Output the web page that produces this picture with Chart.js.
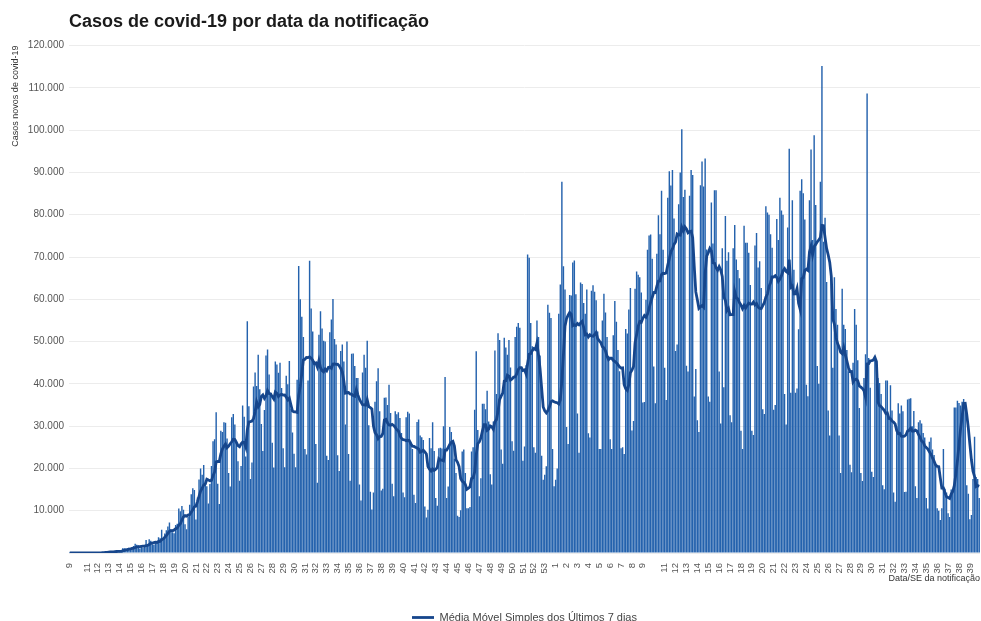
<!DOCTYPE html>
<html><head><meta charset="utf-8">
<script src="https://cdn.jsdelivr.net/npm/chart.js@4.4.1/dist/chart.umd.min.js"></script>
<style>html,body{margin:0;padding:0;background:#fff}#wrap{width:981px;height:621px}</style>
</head><body><div id="wrap"><canvas id="c" width="981" height="621"></canvas></div>
<script>
// Epidemiological weeks (SE) shown on the x axis, 2020 wk 9 .. 2021 wk 39
const epiWeeks = ['9','10','11','12','13','14','15','16','17','18','19','20','21','22','23','24','25','26','27','28','29','30','31','32','33','34','35','36','37','38','39','40','41','42','43','44','45','46','47','48','49','50','51','52','53',
  '1','2','3','4','5','6','7','8','9','10','11','12','13','14','15','16','17','18','19','20','21','22','23','24','25','26','27','28','29','30','31','32','33','34','35','36','37','38','39'];
// Tick labels printed under each week (two "10" labels are not printed in the original)
const weekTickLabels = ['9','','11','12','13','14','15','16','17','18','19','20','21','22','23','24','25','26','27','28','29','30','31','32','33','34','35','36','37','38','39','40','41','42','43','44','45','46','47','48','49','50','51','52','53',
  '1','2','3','4','5','6','7','8','9','','11','12','13','14','15','16','17','18','19','20','21','22','23','24','25','26','27','28','29','30','31','32','33','34','35','36','37','38','39'];
// Daily new cases (thousands), one row per epidemiological week (Sun..Sat)
const dailyCasesK = [
  [0.001,0,0,0.001],
  [0,0.001,0,0.001,0.004,0.005,0.001],
  [0.006,0.005,0.009,0.018,0.025,0.021,0.023],
  [0.079,0.034,0.057,0.137,0.193,0.283,0.224],
  [0.418,0.345,0.310,0.232,0.482,0.502,0.487],
  [0.352,0.323,1.138,1.119,1.074,1.146,1.222],
  [0.852,0.926,1.661,2.210,1.930,1.781,1.089],
  [1.442,1.261,1.832,3.058,2.105,3.257,2.917],
  [2.055,1.927,2.498,2.678,3.735,3.503,5.514],
  [3.379,4.613,5.385,6.276,7.218,5.015,4.898],
  [4.7,6.6,6.9,10.5,9.9,11.1,10.2],
  [6.8,5.6,8.6,11.4,13.9,15.3,14.9],
  [7.9,13.1,17.4,20.0,18.5,20.8,16.5],
  [15.8,11.7,16.3,20.6,26.4,26.9,33.3],
  [16.4,11.6,28.9,28.6,30.9,30.8,27.1],
  [18.9,15.7,32.1,32.9,30.4,26.0,21.7],
  [17.1,20.6,34.9,32.2,22.8,54.8,34.7],
  [17.5,21.4,39.4,42.7,39.5,46.9,38.7],
  [30.5,24.1,33.8,46.7,48.1,42.2,37.9],
  [26.1,20.2,45.3,44.6,42.6,45.0,39.0],
  [24.8,20.3,41.9,39.9,45.4,34.2,28.5],
  [23.5,20.3,41.0,67.9,60.0,55.9,51.1],
  [24.6,23.3,40.8,69.1,57.8,52.4,45.4],
  [25.8,16.6,51.6,57.2,53.1,50.2,50.0],
  [23.0,22.0,52.2,55.2,60.1,50.6,49.3],
  [23.1,19.4,47.8,49.3,45.3,30.4,50.0],
  [23.4,17.1,47.1,47.2,44.2,41.4,41.4],
  [16.2,12.4,42.7,46.9,43.8,50.2,30.2],
  [14.5,10.3,14.3,35.8,40.6,43.7,33.5],
  [14.8,15.2,36.7,36.8,35.0,39.8,33.1],
  [16.4,13.4,33.5,32.8,33.3,31.9,28.4],
  [14.3,13.2,32.1,33.4,33.0,26.3,24.6],
  [13.8,11.8,31.0,31.6,27.8,27.4,26.7],
  [11.0,8.4,10.2,27.2,24.8,30.9,24.1],
  [13.0,11.2,24.8,24.9,24.7,30.0,41.6],
  [13.0,15.7,29.8,28.6,26.1,22.3,18.9],
  [8.8,8.5,10.1,24.0,24.5,18.9,10.6],
  [10.6,10.9,24.0,25.0,33.9,47.7,29.1],
  [13.4,17.7,35.3,35.3,34.0,38.4,31.1],
  [18.6,16.2,31.1,47.9,37.6,52.0,50.4],
  [24.5,21.1,50.9,48.6,46.9,50.4,43.9],
  [26.4,24.2,51.1,53.5,54.4,53.3,43.9],
  [21.8,25.2,44.4,70.6,69.8,54.4,48.9],
  [25.0,23.7,55.0,51.1,46.7,23.0,17.3],
  [18.5,20.5,58.7,56.8,55.6,24.6,15.8],
  [17.3,20.0,56.6,63.5,87.8,67.8,62.3],
  [29.8,25.8,61.0,60.9,68.7,69.2,61.2],
  [33.0,23.7,64.0,63.6,59.1,56.6,62.3],
  [28.3,27.3,62.0,63.3,61.8,59.8,52.4],
  [24.6,24.6,55.0,61.3,56.9,51.1,46.6],
  [26.9,24.6,51.5,59.6,54.7,48.0,43.0],
  [24.8,25.0,23.4,53.0,51.9,57.6,62.7],
  [29.0,31.2,62.5,66.6,65.8,65.2,61.6],
  [35.6,35.7,59.9,71.7,75.1,75.3,69.6],
  [44.1,35.4,70.8,79.9,75.4,85.7,71.7],
  [43.8,36.2,84.0,90.3,86.9,90.6,79.1],
  [47.8,49.3,82.5,90.0,100.2,84.2,85.9],
  [44.3,42.9,84.5,90.6,89.4,37.0,43.5],
  [31.4,28.6,87.0,92.6,86.7,93.3,71.8],
  [37.0,35.8,82.9,73.2,85.8,85.8,67.6],
  [42.9,30.6,72.1,39.2,79.7,69.1,71.1],
  [32.6,30.9,72.1,77.6,69.4,66.9,65.0],
  [28.9,24.6,77.4,73.4,73.4,71.0,63.4],
  [28.9,27.9,72.7,75.7,67.5,69.0,62.7],
  [34.0,32.9,82.0,80.5,80.0,75.4,72.2],
  [33.9,35.0,79.0,74.0,84.0,81.0,80.0],
  [37.6,30.4,77.0,95.6,37.9,83.4,67.0],
  [37.9,38.9,52.9,85.7,88.4,85.1,78.9],
  [39.8,37.1,83.4,95.4,74.0,98.8,82.3],
  [44.2,40.0,87.8,115.2,73.6,79.3,64.1],
  [33.7,27.8,64.9,43.8,65.2,57.7,54.0],
  [27.8,18.9,62.5,54.0,53.0,48.0,43.0],
  [20.9,19.1,45.0,57.7,54.0,45.6,34.3],
  [18.9,17.0,41.4,47.0,108.7,46.1,39.1],
  [19.2,18.0,46.0,40.0,41.4,40.2,37.6],
  [16.0,15.1,40.8,40.8,32.3,39.7,33.7],
  [14.3,12.1,30.0,35.4,33.0,34.9,33.5],
  [14.4,14.5,36.3,36.5,36.6,30.0,33.6],
  [15.8,13.0,30.9,31.4,30.6,28.4,27.3],
  [13.0,10.5,26.3,27.3,24.5,23.2,21.0],
  [10.6,10.0,7.8,10.6,24.6,15.2,14.3],
  [9.4,8.5,15.0,14.8,34.4,34.4,36.0],
  [35.5,34.9,35.8,36.4,34.7,16.0,14.0],
  [8.0,9.0,17.5,27.5,18.0,17.5,13.0]
];
const yTickValuesK = [10,20,30,40,50,60,70,80,90,100,110,120];

// ---- build day-level categories from the arrays above
const dayLabels = [];
const dayValues = [];
dailyCasesK.forEach((week, wi) => {
  week.forEach((v, di) => {
    dayLabels.push(di === 0 ? weekTickLabels[wi] : '');
    dayValues.push(v);
  });
});
// 7-day simple moving average of the daily series (definition of the line)
const movingAvg = dayValues.map((v, i) => {
  const s = dayValues.slice(Math.max(0, i - 6), i + 1);
  return s.reduce((a, b) => a + b, 0) / s.length;
});

const BAR = '#2462ad';
const LINE = '#16468c';
const TXT = '#555';
const SANS = "'Liberation Sans', Arial, sans-serif";

new Chart(document.getElementById('c'), {
  type: 'bar',
  data: {
    labels: dayLabels,
    datasets: [
      { type: 'line', label: 'Média Móvel Simples dos Últimos 7 dias', data: movingAvg,
        borderColor: LINE, backgroundColor: LINE, borderWidth: 2.8, pointRadius: 0, tension: 0, order: 0 },
      { type: 'bar', label: 'Casos novos', data: dayValues, backgroundColor: BAR,
        barPercentage: 0.92, categoryPercentage: 1, order: 1 }
    ]
  },
  options: {
    responsive: false, animation: false, devicePixelRatio: 1,
    layout: { padding: { left: 0, right: 1, top: 0, bottom: -12 } },
    plugins: {
      title: { display: true, text: 'Casos de covid-19 por data da notificação', align: 'start', fullSize: false,
        color: '#1a1a1a', font: { family: SANS, size: 18, weight: 'bold' }, padding: { top: 11, bottom: 13 } },
      legend: { position: 'bottom', fullSize: false,
        labels: { filter: it => it.datasetIndex === 0, usePointStyle: true, pointStyle: 'line', pointStyleWidth: 22,
          color: '#444', font: { family: SANS, size: 11 }, padding: 2 } },
      tooltip: { enabled: false }
    },
    scales: {
      x: {
        grid: { display: false }, border: { display: false },
        ticks: { autoSkip: false, maxRotation: 90, minRotation: 90, padding: 2, color: TXT,
          font: { family: SANS, size: 9.5 } },
        title: { display: true, text: 'Data/SE da notificação', align: 'end', color: '#333',
          font: { family: SANS, size: 9 }, padding: { top: 0, bottom: 26 } },
        afterFit: s => { s.height = 57; s.paddingLeft = 0; s.paddingRight = 0; }
      },
      y: {
        min: 0, max: 120,
        afterBuildTicks: s => { s.ticks = [0].concat(yTickValuesK).map(v => ({ value: v })); },
        grid: { color: '#ececec', drawTicks: false }, border: { display: false },
        ticks: { padding: 5, color: TXT, font: { family: SANS, size: 10 },
          callback: v => v === 0 ? '' : v + '.000' },
        title: { display: true, text: 'Casos novos de covid-19', align: 'end', color: '#333',
          font: { family: SANS, size: 9 }, padding: { top: 10, bottom: 0 } },
        afterFit: s => { s.width = 69; s.paddingTop = 0; s.paddingBottom = 0; }
      }
    }
  }
});
</script></body></html>
